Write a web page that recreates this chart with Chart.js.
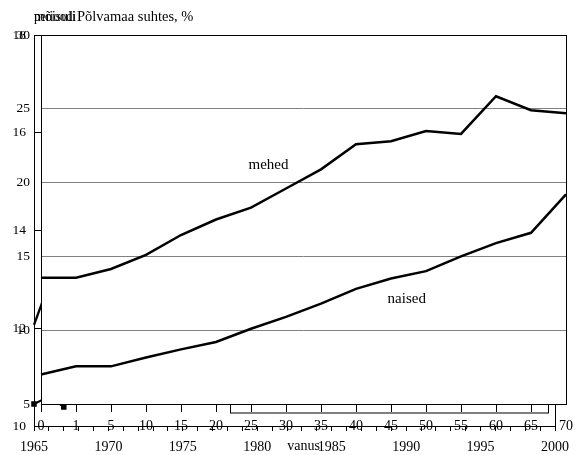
<!DOCTYPE html>
<html>
<head>
<meta charset="utf-8">
<script src="https://cdn.jsdelivr.net/npm/chart.js@4.4.0/dist/chart.umd.min.js"></script>
<style>
  body { margin: 0; background: #fff; }
  #wrap { position: relative; width: 577px; height: 455px; }
  #wrap canvas { position: absolute; left: 0; top: 0; }
</style>
</head>
<body>
<div id="wrap">
  <canvas id="backChart" width="577" height="455"></canvas>
  <canvas id="mainChart" width="577" height="455"></canvas>
</div>
<script>
// age groups on the front chart
const ages = ["0", "1", "5", "10", "15", "20", "25", "30", "35", "40", "45", "50", "55", "60", "65", "70"];
const mehed = [13.55, 13.55, 14.15, 15.1, 16.45, 17.5, 18.3, 19.6, 20.9, 22.6, 22.8, 23.5, 23.3, 25.85, 24.9, 24.7];
const naised = [7.0, 7.55, 7.55, 8.15, 8.7, 9.2, 10.1, 10.9, 11.8, 12.8, 13.5, 14.0, 15.0, 15.9, 16.6, 19.2];

// the chart behind it (years, 10..18) - only its edges show
const years = [1965, 1966, 1967];
const backA = [12.07, 12.9];
const backB = [10.45, 10.6, 10.39];

const serif = "'Liberation Serif', 'DejaVu Serif', serif";

// back chart
const backPlugin = {
  id: "backDeco",
  afterDraw(chart) {
    const { ctx, chartArea: a } = chart;
    ctx.save();
    ctx.strokeStyle = "#000";
    ctx.lineWidth = 1;
    ctx.strokeRect(a.left + 0.5, a.top + 0.5, a.right - a.left, a.bottom - a.top);
    // edge of a third frame peeking out under the plot
    ctx.strokeRect(230.5, 200.5, 318, 212.5);
    ctx.fillStyle = "#000";
    ctx.font = "14.5px " + serif;
    ctx.textBaseline = "middle";
    ctx.fillText("perioodi", 34, 17, 42);
    ctx.fillText("mõisuli", 34, 17, 42);
    ctx.fillText("Põlvamaa suhtes, %", 77, 17);
    ctx.restore();
  }
};

new Chart(document.getElementById("backChart"), {
  type: "line",
  data: {
    datasets: [
      {
        data: years.slice(0, backA.length).map((y, i) => ({ x: y, y: backA[i] })),
        borderColor: "#000",
        borderWidth: 2.3,
        pointRadius: 0,
        clip: false
      },
      {
        data: years.map((y, i) => ({ x: y, y: backB[i] })),
        borderColor: "#000",
        borderWidth: 2,
        pointStyle: "rect",
        pointRadius: 2.5,
        pointBackgroundColor: "#000",
        pointBorderColor: "#000",
        clip: false
      }
    ]
  },
  options: {
    responsive: false,
    animation: false,
    layout: { padding: { top: 35, right: 22, left: 0, bottom: 0 } },
    plugins: { legend: { display: false }, tooltip: { enabled: false } },
    scales: {
      x: {
        type: "linear",
        min: 1965,
        max: 2000,
        afterFit(s) { s.height = 29; s.paddingLeft = 0; s.paddingRight = 0; },
        grid: { drawOnChartArea: false, tickLength: 5, color: "#000" },
        border: { color: "#000" },
        ticks: {
          stepSize: 1,
          autoSkip: false,
          maxRotation: 0,
          padding: 8,
          color: "#000",
          font: { family: serif, size: 14 },
          callback: v => (v % 5 === 0 ? String(v) : "")
        }
      },
      y: {
        min: 10,
        max: 18,
        afterFit(s) { s.width = 34; },
        grid: { drawTicks: false, color: "#000" },
        border: { color: "#000" },
        ticks: { stepSize: 2, padding: 8, color: "#000", font: { family: serif, size: 13.5 } }
      }
    }
  },
  plugins: [backPlugin]
});

// front chart
const frontPlugin = {
  id: "frontDeco",
  beforeDraw(chart) {
    const { ctx, chartArea: a } = chart;
    ctx.save();
    ctx.fillStyle = "#fff";
    ctx.fillRect(a.left, a.top, a.right - a.left, a.bottom - a.top);
    ctx.restore();
  },
  afterDraw(chart) {
    const { ctx, chartArea: a, scales } = chart;
    ctx.save();
    ctx.strokeStyle = "#000";
    ctx.lineWidth = 1;
    ctx.strokeRect(a.left + 0.5, a.top + 0.5, a.right - a.left, a.bottom - a.top);
    ctx.fillStyle = "#000";
    ctx.font = "15px " + serif;
    ctx.textAlign = "center";
    ctx.textBaseline = "middle";
    ctx.fillText("mehed", scales.x.getPixelForValue(6.5), scales.y.getPixelForValue(21.2));
    ctx.fillText("naised", scales.x.getPixelForValue(10.45), scales.y.getPixelForValue(12.1));
    ctx.restore();
  }
};

new Chart(document.getElementById("mainChart"), {
  type: "line",
  data: {
    labels: ages,
    datasets: [
      { label: "mehed", data: mehed, borderColor: "#000", borderWidth: 2.5, pointRadius: 0, tension: 0 },
      { label: "naised", data: naised, borderColor: "#000", borderWidth: 2.5, pointRadius: 0, tension: 0 }
    ]
  },
  options: {
    responsive: false,
    animation: false,
    layout: { padding: { top: 35, right: 11, left: 0, bottom: 0 } },
    plugins: { legend: { display: false }, tooltip: { enabled: false } },
    scales: {
      x: {
        offset: false,
        afterFit(s) { s.height = 51; s.paddingLeft = 0; s.paddingRight = 0; },
        grid: {
          drawOnChartArea: false,
          tickLength: 8,
          color: c => (c.index === ages.length - 1 ? "rgba(0,0,0,0)" : "#000")
        },
        border: { display: false },
        ticks: { autoSkip: false, maxRotation: 0, padding: 6, color: "#000", font: { family: serif, size: 14 } },
        title: { display: true, text: "vanus", color: "#000", font: { family: serif, size: 14 }, padding: { top: 0, bottom: 0 } }
      },
      y: {
        min: 5,
        max: 30,
        afterFit(s) { s.width = 41; },
        grid: {
          drawTicks: false,
          color: c => (c.tick.value === 5 || c.tick.value === 30 ? "rgba(0,0,0,0)" : "#808080")
        },
        border: { display: false },
        ticks: { stepSize: 5, padding: 11, color: "#000", font: { family: serif, size: 13.5 } }
      }
    }
  },
  plugins: [frontPlugin]
});
</script>
</body>
</html>
